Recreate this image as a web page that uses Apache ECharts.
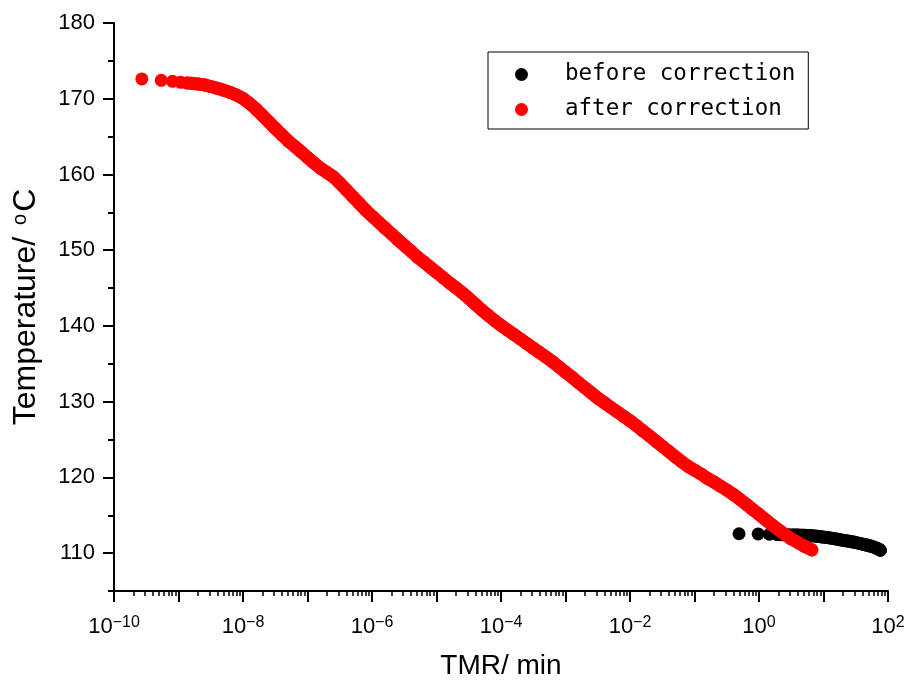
<!DOCTYPE html>
<html><head><meta charset="utf-8">
<script src="https://cdn.jsdelivr.net/npm/echarts@6/dist/echarts.min.js"></script>
<style>html,body{margin:0;padding:0;background:#fff}#c{width:909px;height:685px}</style>
</head><body><div id="c"></div>
<script>
// ---- data ----
const beforeTMR = [0.49, 0.97, 1.45, 1.92, 2.4, 2.9, 3.4, 3.9, 4.8, 5.8, 6.7, 7.7, 8.6, 9.6, 11, 12.5, 14.4, 16.3, 18.7, 21, 24, 27, 30, 34, 38, 42, 47, 52, 57, 62, 67, 72, 76];
const beforeTemp = [112.56, 112.54, 112.49, 112.46, 112.44, 112.41, 112.39, 112.38, 112.36, 112.33, 112.29, 112.24, 112.19, 112.14, 112.08, 112.01, 111.92, 111.84, 111.74, 111.67, 111.59, 111.51, 111.44, 111.34, 111.24, 111.16, 111.06, 110.96, 110.87, 110.76, 110.64, 110.52, 110.38];

const afterTMR = [2.7e-10, 5.4e-10, 8.1e-10, 1.08e-9, 1.35e-9,
  1.58e-9, 2.0e-9, 2.51e-9, 3.16e-9, 3.98e-9, 5.01e-9, 6.31e-9, 7.94e-9,
  1e-8, 1.26e-8, 1.58e-8, 2e-8, 2.51e-8, 3.16e-8, 3.98e-8, 5.01e-8, 6.31e-8, 7.94e-8,
  1e-7, 1.26e-7, 1.58e-7, 2e-7, 2.51e-7, 3.16e-7, 3.98e-7, 5.01e-7, 6.31e-7, 7.94e-7,
  1e-6, 1.26e-6, 1.58e-6, 2e-6, 2.51e-6, 3.16e-6, 3.98e-6, 5.01e-6, 6.31e-6, 7.94e-6,
  1e-5, 1.26e-5, 1.58e-5, 2e-5, 2.51e-5, 3.16e-5, 3.98e-5, 5.01e-5, 6.31e-5, 7.94e-5,
  1e-4, 1.26e-4, 1.58e-4, 2e-4, 2.51e-4, 3.16e-4, 3.98e-4, 5.01e-4, 6.31e-4, 7.94e-4,
  1e-3, 1.26e-3, 1.58e-3, 2e-3, 2.51e-3, 3.16e-3, 3.98e-3, 5.01e-3, 6.31e-3, 7.94e-3,
  1e-2, 1.26e-2, 1.58e-2, 2e-2, 2.51e-2, 3.16e-2, 3.98e-2, 5.01e-2, 6.31e-2, 7.94e-2,
  0.1, 0.126, 0.158, 0.2, 0.251, 0.316, 0.398, 0.501, 0.631, 0.794,
  1.0, 1.26, 1.58, 2.0, 2.51, 3.16, 3.98, 5.01, 6.31, 6.6];
const afterTemp = [172.61, 172.43, 172.30, 172.16, 172.08,
  172.04, 171.94, 171.83, 171.61, 171.38, 171.12, 170.84, 170.48,
  170.03, 169.38, 168.65, 167.80, 166.95, 166.09, 165.25, 164.43, 163.73, 163.00,
  162.24, 161.52, 160.85, 160.26, 159.70, 158.88, 157.99, 157.09, 156.19, 155.30,
  154.50, 153.72, 152.95, 152.17, 151.40, 150.65, 149.90, 149.13, 148.46, 147.77,
  147.08, 146.39, 145.70, 145.05, 144.38, 143.65, 142.88, 142.11, 141.41, 140.72,
  140.07, 139.46, 138.88, 138.27, 137.67, 137.07, 136.48, 135.88, 135.26, 134.58,
  133.90, 133.23, 132.54, 131.84, 131.16, 130.47, 129.87, 129.26, 128.67, 128.07,
  127.47, 126.83, 126.15, 125.47, 124.80, 124.11, 123.43, 122.74, 122.07, 121.46,
  120.96, 120.45, 119.88, 119.40, 118.86, 118.34, 117.77, 117.13, 116.46, 115.78,
  115.12, 114.43, 113.74, 113.10, 112.49, 111.89, 111.42, 110.93, 110.51, 110.43];

// isolated dots at the start of each series (drawn as separate circles only)
const beforeSparseCount = 3;
const afterSparseCount = 4;

const yLabelValues = [110, 120, 130, 140, 150, 160, 170, 180];
const yMinorValues = [105, 115, 125, 135, 145, 155, 165, 175];
const xMajorValues = [1e-10, 1e-9, 1e-8, 1e-7, 1e-6, 1e-5, 1e-4, 1e-3, 1e-2, 1e-1, 1, 10, 100];
const xLabelValues = [1e-10, 1e-8, 1e-6, 1e-4, 1e-2, 1, 100];
const xMinorMantissas = [2, 3, 4, 5, 6, 7, 8, 9];

// ---- build ----
const xMinorValues = [];
for (let i = 0; i < xMajorValues.length - 1; i++) {
  xMinorMantissas.forEach(m => xMinorValues.push(m * xMajorValues[i]));
}
const pairs = (xs, ys) => xs.map((x, i) => [x, ys[i]]);
const beforeAll = pairs(beforeTMR, beforeTemp);
const afterAll = pairs(afterTMR, afterTemp);

const FONT = 'Liberation Sans, Arial, sans-serif';
const xLabelFmt = v => {
  const e = Math.round(Math.log10(v));
  return '{b|10}{s|' + (e < 0 ? '\u2212' : '') + Math.abs(e) + '}';
};
const DOT = 13;

const chart = echarts.init(document.getElementById('c'), null, {renderer: 'canvas'});
chart.setOption({
  animation: false,
  backgroundColor: '#fff',
  grid: {left: 114, right: 21, top: 23, bottom: 94},
  legend: {
    data: [{name: 'before correction', icon: 'circle'}, {name: 'after correction', icon: 'circle'}],
    orient: 'vertical', left: 488, top: 52,
    padding: [11, 13, 8, 27],
    itemWidth: 13, itemHeight: 13, itemGap: 12,
    borderColor: '#000', borderWidth: 1, borderRadius: 0,
    formatter: n => '{t|' + n + '}',
    textStyle: {rich: {t: {fontFamily: 'DejaVu Sans Mono', fontSize: 22.5, lineHeight: 24, padding: [0, 0, 0, 32], color: '#000'}}}
  },
  xAxis: [{
    type: 'log', logBase: 10, min: 1e-10, max: 100,
    name: 'TMR/ min', nameLocation: 'middle', nameGap: 61,
    nameTextStyle: {fontFamily: FONT, fontSize: 28, color: '#000'},
    axisLine: {show: true, lineStyle: {color: '#000', width: 2}},
    axisTick: {show: true, inside: false, length: 11, lineStyle: {color: '#000', width: 2}, customValues: xMajorValues},
    axisLabel: {customValues: xLabelValues, formatter: xLabelFmt, margin: 24, color: '#000',
      rich: {b: {fontFamily: FONT, fontSize: 22, lineHeight: 24, color: '#000'},
             s: {fontFamily: FONT, fontSize: 16, lineHeight: 15, verticalAlign: 'top', color: '#000'}}},
    splitLine: {show: false}, minorTick: {show: false}, minorSplitLine: {show: false}
  }, {
    type: 'log', logBase: 10, min: 1e-10, max: 100, position: 'bottom', gridIndex: 0,
    axisLine: {show: false},
    axisTick: {show: true, inside: false, length: 5, lineStyle: {color: '#000', width: 1.5}, customValues: xMinorValues},
    axisLabel: {show: false}, splitLine: {show: false}
  }],
  yAxis: [{
    type: 'value', min: 105, max: 180,
    name: 'Temperature/ {s|o}C', nameLocation: 'middle', nameGap: 72,
    nameTextStyle: {fontFamily: FONT, fontSize: 32, color: '#000',
      rich: {s: {fontFamily: FONT, fontSize: 20, verticalAlign: 'top', padding: [0, 2, 0, 3], color: '#000'}}},
    axisLine: {show: true, lineStyle: {color: '#000', width: 2}},
    axisTick: {show: true, inside: false, length: 11, lineStyle: {color: '#000', width: 2}, customValues: yLabelValues},
    axisLabel: {customValues: yLabelValues, margin: 19, fontFamily: FONT, fontSize: 22, color: '#000'},
    splitLine: {show: false}
  }, {
    type: 'value', min: 105, max: 180, position: 'left', offset: 0, gridIndex: 0,
    axisLine: {show: false},
    axisTick: {show: true, inside: false, length: 6, lineStyle: {color: '#000', width: 2}, customValues: yMinorValues},
    axisLabel: {show: false}, splitLine: {show: false}
  }],
  series: [
    {type: 'scatter', name: 'before correction', data: beforeAll, symbol: 'circle', symbolSize: DOT,
     itemStyle: {color: '#000', opacity: 1}, z: 2},
    {type: 'line', name: 'before correction', data: beforeAll.slice(beforeSparseCount), symbol: 'none', showSymbol: false,
     lineStyle: {color: '#000', width: DOT, cap: 'round', join: 'round', opacity: 1}, itemStyle: {color: '#000'}, z: 2, silent: true},
    {type: 'scatter', name: 'after correction', data: afterAll, symbol: 'circle', symbolSize: DOT,
     itemStyle: {color: '#ff0000', opacity: 1}, z: 3},
    {type: 'line', name: 'after correction', data: afterAll.slice(afterSparseCount), symbol: 'none', showSymbol: false,
     lineStyle: {color: '#ff0000', width: DOT, cap: 'round', join: 'round', opacity: 1}, itemStyle: {color: '#ff0000'}, z: 3, silent: true}
  ]
});
</script>
</body></html>
